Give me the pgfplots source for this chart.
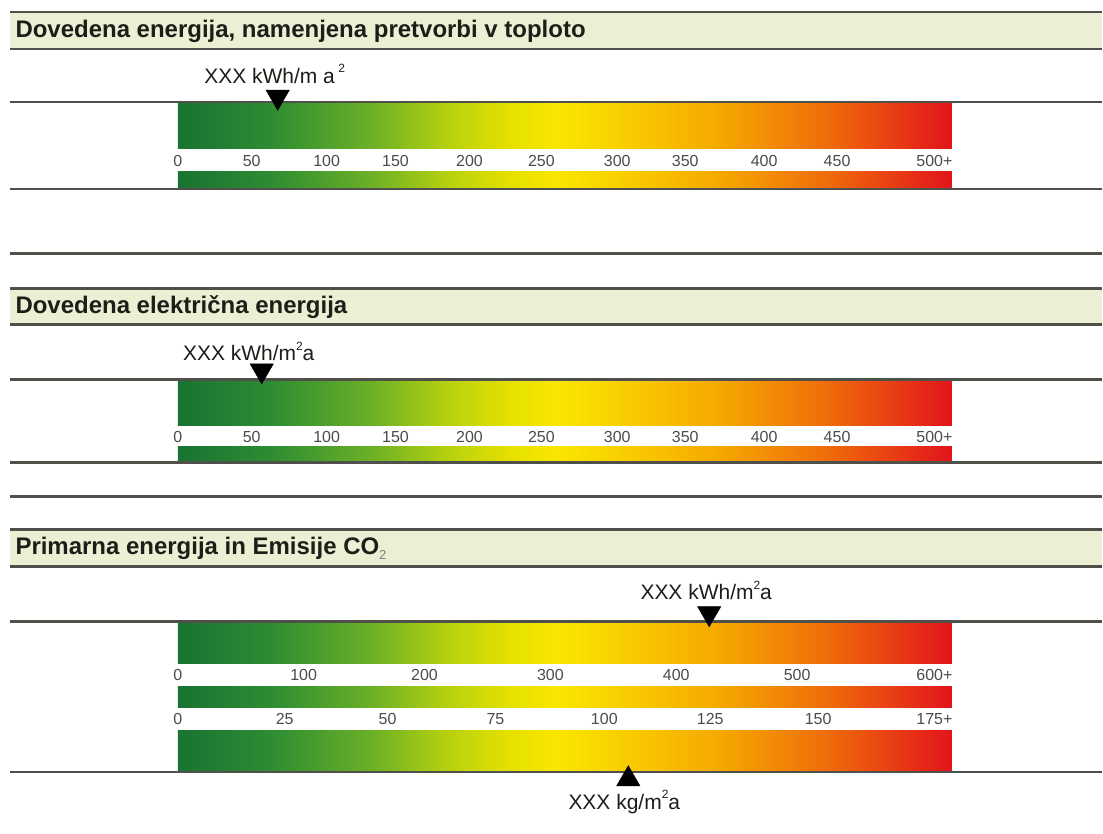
\documentclass[border=0pt]{standalone}
\usepackage{pgfplots}
\pgfplotsset{compat=1.18}
\usepackage{fontspec}
\setmainfont{Liberation Sans}
\definecolor{hdr}{RGB}{235,239,212}
\definecolor{rulec}{RGB}{80,80,75}
\definecolor{tickc}{RGB}{75,75,75}
\definecolor{txtc}{RGB}{30,30,25}
\pgfdeclarehorizontalshading{energy}{100bp}{
rgb(0bp)=(0.098,0.451,0.196);
rgb(25bp)=(0.098,0.451,0.196);
rgb(31bp)=(0.176,0.549,0.196);
rgb(37.5bp)=(0.420,0.690,0.150);
rgb(42.5bp)=(0.720,0.820,0.060);
rgb(46.5bp)=(0.900,0.880,0);
rgb(49.5bp)=(0.980,0.905,0);
rgb(55bp)=(0.975,0.780,0);
rgb(60bp)=(0.960,0.660,0);
rgb(67bp)=(0.935,0.420,0.040);
rgb(75bp)=(0.886,0.078,0.110);
rgb(100bp)=(0.886,0.078,0.110)}
\newcommand{\sq}{\raisebox{0.5em}{\fontsize{12}{12}\selectfont 2}}
\tikzset{tl/.style={text=tickc, font=\fontsize{16}{18}\selectfont},
  hd/.style={anchor=west, text=txtc, font=\fontsize{24}{28}\selectfont\bfseries},
  ml/.style={text=txtc, font=\fontsize{21}{24}\selectfont}}
\begin{document}
\begin{tikzpicture}
\begin{axis}[scale only axis, width=1103pt, height=834pt,
  xmin=0, xmax=1103, ymin=0, ymax=834, y dir=reverse,
  hide axis, clip=false]
% background
\addplot[fill=white, draw=none] coordinates {(0,0) (1103,0) (1103,834) (0,834)};
% header boxes
\addplot[fill=hdr, draw=none] coordinates {(10,12) (1103,12) (1103,49) (10,49)};
\addplot[fill=hdr, draw=none] coordinates {(10,289) (1103,289) (1103,325) (10,325)};
\addplot[fill=hdr, draw=none] coordinates {(10,530) (1103,530) (1103,567) (10,567)};
% gradient bars (scale from 0 at x=178 px to max at x=953 px)
\addplot[draw=none, shading=energy] coordinates {(178,102) (953,102) (953,149) (178,149)};
\addplot[draw=none, shading=energy] coordinates {(178,172) (953,172) (953,189) (178,189)};
\addplot[draw=none, shading=energy] coordinates {(178,380) (953,380) (953,426) (178,426)};
\addplot[draw=none, shading=energy] coordinates {(178,447) (953,447) (953,463) (178,463)};
\addplot[draw=none, shading=energy] coordinates {(178,622) (953,622) (953,664) (178,664)};
\addplot[draw=none, shading=energy] coordinates {(178,687) (953,687) (953,708) (178,708)};
\addplot[draw=none, shading=energy] coordinates {(178,731) (953,731) (953,773) (178,773)};
% rules
\foreach \yy in {12,49,102,189,254,289,325,380,463,497,530,567,622,773}{
  \edef\temp{\noexpand\addplot[line width=2.5pt, color=rulec] coordinates {(10,\yy) (1103,\yy)};}
  \temp
}
% markers
\addplot[only marks, mark=triangle*, mark size=13.5pt, mark options={rotate=180, fill=black, draw=black}] coordinates {(278,97)};
\addplot[only marks, mark=triangle*, mark size=13.5pt, mark options={rotate=180, fill=black, draw=black}] coordinates {(262,371)};
\addplot[only marks, mark=triangle*, mark size=13.5pt, mark options={rotate=180, fill=black, draw=black}] coordinates {(710,614)};
\addplot[only marks, mark=triangle*, mark size=13.5pt, mark options={fill=black, draw=black}] coordinates {(629,780)};
% headers
\node[hd] at (axis cs:12,31) {Dovedena energija, namenjena pretvorbi v toploto};
\node[hd] at (axis cs:12,307) {Dovedena električna energija};
\node[hd] at (axis cs:12,549) {Primarna energija in Emisije CO\raisebox{-0.22em}{\fontsize{13}{13}\selectfont\mdseries\color{gray}2}};
% marker labels
\node[ml] at (axis cs:275,74) {XXX kWh/m a\,\sq};
\node[ml] at (axis cs:249,352) {XXX kWh/m\sq a};
\node[ml] at (axis cs:707,591) {XXX kWh/m\sq a};
\node[ml] at (axis cs:625,803) {XXX kg/m\sq a};
% tick labels
\foreach \xx/\lab in {178/0,252/50,327/100,396/150,470/200,542/250,618/300,686/350,765/400,838/450}{
  \edef\temp{\noexpand\node[tl] at (axis cs:\xx,161) {\lab}; \noexpand\node[tl] at (axis cs:\xx,437) {\lab};}
  \temp
}
\node[tl, anchor=east] at (axis cs:957,161) {500+};
\node[tl, anchor=east] at (axis cs:957,437) {500+};
\foreach \xx/\lab in {178/0,304/100,425/200,551/300,677/400,798/500}{
  \edef\temp{\noexpand\node[tl] at (axis cs:\xx,676) {\lab};}
  \temp
}
\node[tl, anchor=east] at (axis cs:957,676) {600+};
\foreach \xx/\lab in {178/0,285/25,388/50,496/75,605/100,711/125,819/150}{
  \edef\temp{\noexpand\node[tl] at (axis cs:\xx,720) {\lab};}
  \temp
}
\node[tl, anchor=east] at (axis cs:957,720) {175+};
\end{axis}
\end{tikzpicture}
\end{document}
